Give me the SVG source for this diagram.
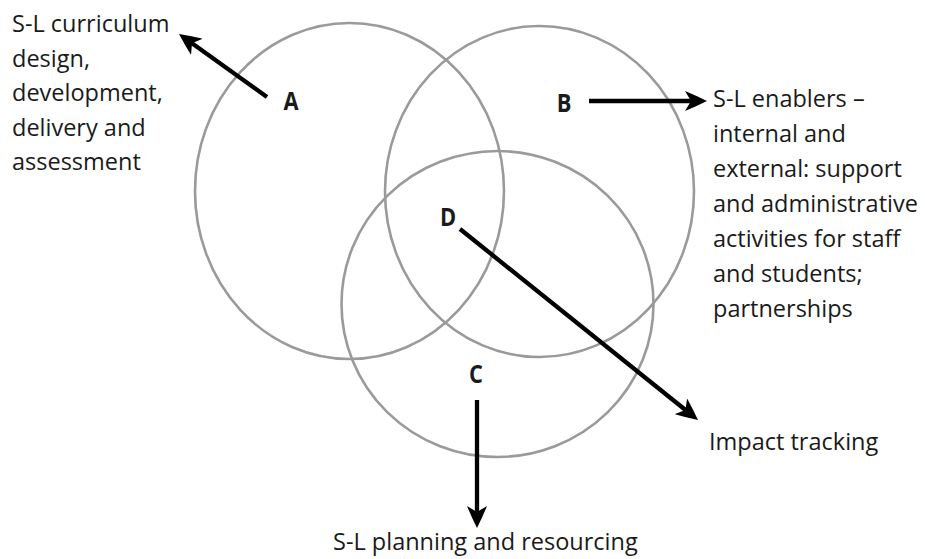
<svg xmlns="http://www.w3.org/2000/svg" width="925" height="559" viewBox="0 0 925 559">
<style>
.ring{fill:none;stroke:#9a9a9a;stroke-width:2.6}
.txt{font-family:"Open Sans","Noto Sans","Liberation Sans",sans-serif;font-size:23.5px;fill:#1a1a1a}
.lbl{font-family:"Open Sans","Noto Sans","Liberation Sans",sans-serif;font-size:23px;font-weight:bold;fill:#1a1a1a}
.arr{stroke:#000;stroke-width:4.3;fill:none;marker-end:url(#ah)}
</style>
<defs>
<marker id="ah" markerUnits="userSpaceOnUse" viewBox="0 0 22 20" refX="6" refY="10" markerWidth="22" markerHeight="20" orient="auto">
<path d="M22,10 Q11,4.5 0,0 L6,10 L0,20 Q11,15.5 22,10 Z" fill="#000"/>
</marker>
</defs>
<rect width="925" height="559" fill="#fff"/>
<g id="circle-A"><ellipse class="ring" cx="349.5" cy="191" rx="154.5" ry="168"/></g>
<g id="circle-B"><ellipse class="ring" cx="539.5" cy="191.5" rx="154.5" ry="165.5"/></g>
<g id="circle-C"><ellipse class="ring" cx="497.5" cy="304" rx="156" ry="153"/></g>
<g id="label-A"><text class="lbl" x="291" y="110" text-anchor="middle" transform="translate(291 110) scale(0.95 1.1) translate(-291 -110)">A</text></g>
<g id="label-B"><text class="lbl" x="564" y="112" text-anchor="middle" transform="translate(564 112) scale(0.95 1.1) translate(-564 -112)">B</text></g>
<g id="label-C"><text class="lbl" x="476" y="383" text-anchor="middle" transform="translate(476 383) scale(0.95 1.1) translate(-476 -383)">C</text></g>
<g id="label-D"><text class="lbl" x="448" y="226" text-anchor="middle" transform="translate(448 226) scale(0.95 1.1) translate(-448 -226)">D</text></g>
<g id="connectors">
<line class="arr" x1="267" y1="97" x2="192" y2="43.3"/>
<line class="arr" x1="589" y1="101" x2="691" y2="101"/>
<line class="arr" x1="460" y1="229" x2="685.5" y2="410"/>
<line class="arr" x1="477" y1="400" x2="477" y2="512"/>
</g>
<g id="text-A">
<text class="txt" x="12" y="32">S-L curriculum</text>
<text class="txt" x="12" y="66.5">design,</text>
<text class="txt" x="12" y="101">development,</text>
<text class="txt" x="12" y="135.5">delivery and</text>
<text class="txt" x="12" y="170">assessment</text>
</g>
<g id="text-B">
<text class="txt" x="713" y="107">S-L enablers –</text>
<text class="txt" x="713" y="142">internal and</text>
<text class="txt" x="713" y="177">external: support</text>
<text class="txt" x="713" y="212">and administrative</text>
<text class="txt" x="713" y="247">activities for staff</text>
<text class="txt" x="713" y="282">and students;</text>
<text class="txt" x="713" y="317">partnerships</text>
</g>
<g id="text-D"><text class="txt" x="709" y="450">Impact tracking</text></g>
<g id="text-C"><text class="txt" x="333" y="550">S-L planning and resourcing</text></g>
</svg>
